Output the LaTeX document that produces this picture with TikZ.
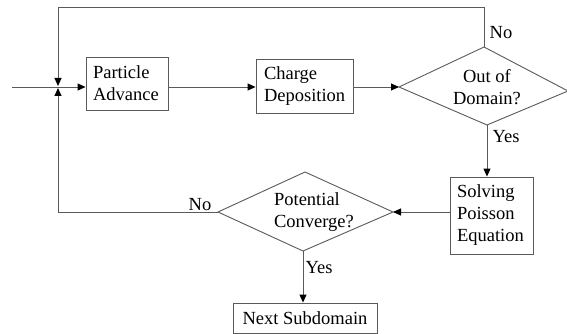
\documentclass[tikz,border=0pt]{standalone}
\usepackage{fontspec}
\setmainfont{Liberation Serif}
\usetikzlibrary{arrows.meta}
\definecolor{linegray}{RGB}{90,90,90}
\tikzset{
  every node/.style={font=\fontsize{18.5pt}{22pt}\selectfont, text=black},
  boxnode/.style={draw=linegray, line width=0.9pt, rectangle, align=left, inner xsep=7pt, inner ysep=0pt},
  dtext/.style={inner sep=0pt, align=center},
  dshape/.style={draw=linegray, line width=0.9pt},
  conn/.style={draw=linegray, line width=0.9pt},
  arr/.style={conn, -{Triangle[length=8pt,width=7pt,color=black]}},
  lbl/.style={inner sep=0pt}
}
\begin{document}
\begin{tikzpicture}[x=1pt,y=-1pt]
\useasboundingbox (0,0) rectangle (567,334);
\fill[white] (0,0) rectangle (567,334);
% boxes
\node[boxnode, text width=68pt, minimum width=82pt, minimum height=53pt] (pa) at (127,83.5) {Particle\\Advance};
\node[boxnode, text width=81pt, inner xsep=8pt, minimum width=97pt, minimum height=54pt] (cd) at (304.5,86) {Charge\\Deposition};
\node[boxnode, text width=69pt, minimum width=83pt, minimum height=77pt] (sp) at (491.5,215.5) {Solving\\Poisson\\Equation};
\node[boxnode, align=center, minimum width=144pt, minimum height=30pt] (ns) at (305,318) {Next Subdomain};
% decision: Out of Domain?
\coordinate (oodW) at (399,87);
\coordinate (oodN) at (484,47);
\coordinate (oodE) at (568,91);
\coordinate (oodS) at (487,125);
\draw[dshape] (oodW) -- (oodN) -- (oodE) -- (oodS) -- cycle;
\node[dtext] (ood) at (487,87) {Out of\\Domain?};
% decision: Potential Converge?
\coordinate (pcW) at (218,212);
\coordinate (pcN) at (305,172);
\coordinate (pcE) at (393,212);
\coordinate (pcS) at (303,251);
\draw[dshape] (pcW) -- (pcN) -- (pcE) -- (pcS) -- cycle;
\node[dtext, align=left] (pc) at (314,212) {Potential\\Converge?};
% coordinates
\coordinate (start) at (12,87);
\coordinate (jtop) at (58,7);
\coordinate (jdown) at (58,86);
\coordinate (jup) at (58,88);
\coordinate (jbot) at (58,212);
% connectors
\draw[arr] (start) -- (start -| pa.west);
\draw[arr] (pa.east |- start) -- (cd.west |- start);
\draw[arr] (cd.east |- oodW) -- (oodW);
\draw[arr] (oodN) |- (jtop) -- (jdown);
\draw[arr] (oodS) -- (oodS |- sp.north);
\draw[arr] (sp.west |- pcE) -- (pcE);
\draw[arr] (pcW) -- (jbot) -- (jup);
\draw[arr] (pcS) -- (pcS |- ns.north);
% labels
\node[lbl] (noA) at (501,33) {No};
\node[lbl] (yesA) at (506,137) {Yes};
\node[lbl] (noB) at (200,205) {No};
\node[lbl] (yesB) at (319,268) {Yes};
\end{tikzpicture}
\end{document}
